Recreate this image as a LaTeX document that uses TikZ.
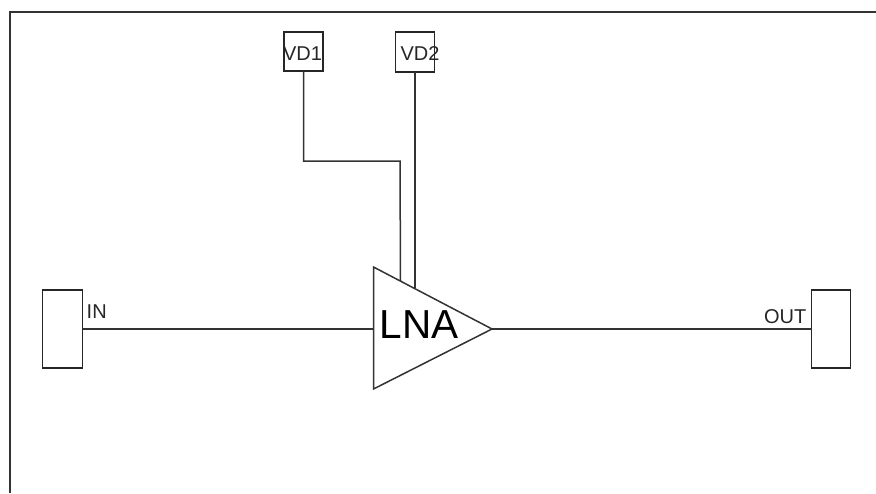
\documentclass[tikz,border=0pt]{standalone}
\usepackage{fontspec}
\setmainfont{Liberation Sans}

\tikzset{
    wire/.style={draw=black!80, line width=1.5pt},
    pin/.style={draw=black!85, line width=1.6pt, inner sep=0, outer sep=0},
    pinlabel/.style={inner sep=0, text=black!85, font=\fontsize{20}{22}\selectfont},
}

\begin{document}
\begin{tikzpicture}[x=1pt, y=-1pt]
    \useasboundingbox (0, 0) rectangle (876, 493);

    \coordinate (frame top) at (876, 12);
    \coordinate (frame corner) at (10, 12);
    \coordinate (frame bottom) at (10, 493);
    \draw[wire] (frame top) -- (frame corner) -- (frame bottom);

    \node [pin, minimum width=39, minimum height=39] (vd1) at (303.5, 51.5) {};
    \node [pin, minimum width=39, minimum height=40] (vd2) at (415, 52) {};
    \node [pin, minimum width=40, minimum height=77.5] (in) at (62.5, 329) {};
    \node [pin, minimum width=39, minimum height=77.5] (out) at (831, 329) {};

    \coordinate (lna top) at (373.5, 267);
    \coordinate (lna bottom) at (373.5, 389);
    \coordinate (lna tip) at (492, 329);
    \coordinate (lna left) at (373.5, 329);
    \draw[wire] (lna top) -- (lna tip) -- (lna bottom) -- cycle;

    \coordinate (vd1 bend a) at (303.5, 161);
    \coordinate (vd1 bend b) at (400, 161);
    \coordinate (vd1 end) at (400.5, 281);
    \coordinate (vd2 end) at (415, 288);
    \draw[wire] (vd1) -- (vd1 bend a) -- (vd1 bend b) -- (vd1 end);
    \draw[wire] (vd2) -- (vd2 end);
    \draw[wire] (in) -- (lna left);
    \draw[wire] (lna tip) -- (out);

    \node [pinlabel] (vd1 text) at (302.5, 53.5) {VD1};
    \node [pinlabel] (vd2 text) at (420, 53.5) {VD2};
    \node [pinlabel, anchor=west] (in text) at (86.5, 312) {IN};
    \node [pinlabel, anchor=east] (out text) at (806.5, 317) {OUT};
    \node [inner sep=0, font=\fontsize{40.5}{44}\selectfont] (lna text) at (419, 325) {LNA};
\end{tikzpicture}
\end{document}
